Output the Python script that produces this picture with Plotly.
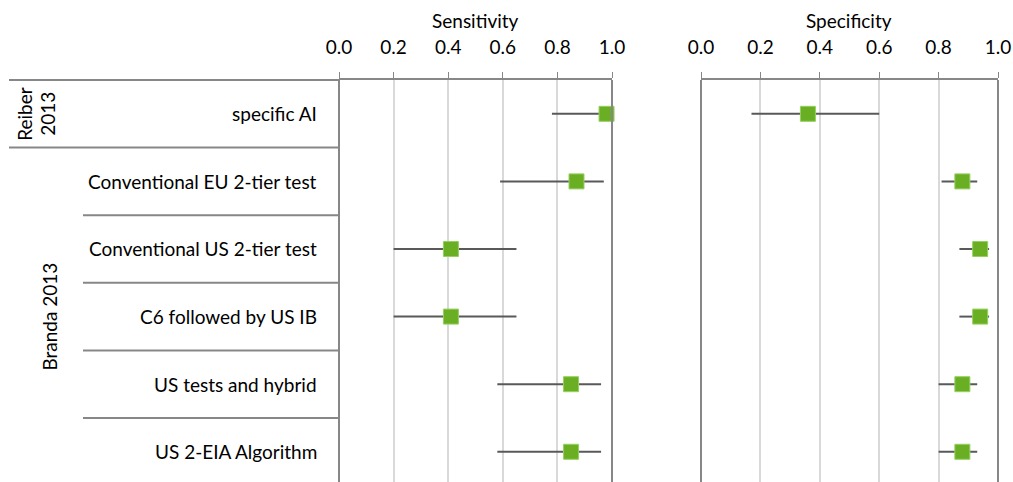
import plotly.graph_objects as go

# Diagnostic accuracy by test (point estimate with 95% CI)
tests = [
    "specific AI",
    "Conventional EU 2-tier test",
    "Conventional US 2-tier test",
    "C6 followed by US IB",
    "US tests and hybrid",
    "US 2-EIA Algorithm",
]
sens = [0.98, 0.87, 0.41, 0.41, 0.85, 0.85]
sens_lo = [0.78, 0.59, 0.20, 0.20, 0.58, 0.58]
sens_hi = [1.00, 0.97, 0.65, 0.65, 0.96, 0.96]
spec = [0.36, 0.88, 0.94, 0.94, 0.88, 0.88]
spec_lo = [0.17, 0.81, 0.87, 0.87, 0.80, 0.80]
spec_hi = [0.60, 0.93, 0.97, 0.97, 0.93, 0.93]
tick_vals = [0.0, 0.2, 0.4, 0.6, 0.8, 1.0]
tick_text = ["0.0", "0.2", "0.4", "0.6", "0.8", "1.0"]

W, H = 1013, 482
FONT = "Lato, 'Open Sans', sans-serif"
FS = 19
GREEN = "#6aaf23"
EDGE = "#94d05f"
BAR = "#595959"
FRAME = "#878787"

rows = list(range(len(tests)))

fig = go.Figure()


def add_panel(vals, lo, hi, xa):
    fig.add_trace(go.Scatter(
        x=vals, y=rows, xaxis=xa, yaxis="y", mode="markers",
        marker=dict(symbol="square", size=15, color=GREEN,
                    line=dict(color=EDGE, width=1)),
        error_x=dict(type="data", symmetric=False,
                     array=[h - v for h, v in zip(hi, vals)],
                     arrayminus=[v - l for v, l in zip(vals, lo)],
                     color=BAR, thickness=2, width=0),
        showlegend=False, hoverinfo="skip", cliponaxis=False,
    ))


add_panel(sens, sens_lo, sens_hi, "x")
add_panel(spec, spec_lo, spec_hi, "x2")

L0, L1 = 339 / W, 612 / W
R0, R1 = 701 / W, 998 / W

xcommon = dict(
    range=[0, 1], side="top", tickvals=tick_vals, ticktext=tick_text,
    ticks="outside", ticklen=6, tickcolor=FRAME, tickwidth=1,
    ticklabelstandoff=10,
    showline=True, linecolor=FRAME, linewidth=2,
    showgrid=True, gridcolor="#d9d9d9", gridwidth=2,
    zeroline=False, tickfont=dict(family=FONT, size=FS, color="#000"),
    automargin=False, fixedrange=True,
)
fig.update_layout(
    width=W, height=H,
    margin=dict(l=0, r=0, t=80, b=0, pad=0, autoexpand=False),
    paper_bgcolor="white", plot_bgcolor="white",
    xaxis=dict(domain=[L0, L1], anchor="y", **xcommon),
    xaxis2=dict(domain=[R0, R1], anchor="y", **xcommon),
    yaxis=dict(range=[5.447, -0.5], showticklabels=False, showgrid=False,
               zeroline=False, showline=False, ticks="", automargin=False,
               fixedrange=True),
    font=dict(family=FONT, size=FS, color="#000"),
)

# panel titles
for label, x0, x1 in [("Sensitivity", L0, L1), ("Specificity", R0, R1)]:
    fig.add_annotation(text=label, xref="paper", yref="paper",
                       x=(x0 + x1) / 2, y=1 + (80 - 20) / 402,
                       xanchor="center", yanchor="middle", showarrow=False,
                       font=dict(family=FONT, size=FS, color="#000"))

# vertical frame lines of both panels
for xp in [L0, L1, R0, R1]:
    fig.add_shape(type="line", xref="paper", yref="paper",
                  x0=xp, x1=xp, y0=0, y1=1,
                  line=dict(color=FRAME, width=2), layer="above")

# top rule across the label column
fig.add_shape(type="line", xref="paper", yref="paper",
              x0=9 / W, x1=L0, y0=1, y1=1, line=dict(color=FRAME, width=2))

# row separators; the study boundary spans the group column too
for i in range(len(tests) - 1):
    start = 9 / W if i == 0 else 83 / W
    fig.add_shape(type="line", xref="paper", yref="y",
                  x0=start, x1=L0, y0=i + 0.5, y1=i + 0.5,
                  line=dict(color=FRAME, width=2))

# test names
for i, name in enumerate(tests):
    fig.add_annotation(text=name, xref="paper", yref="y",
                       x=319 / W, y=i, xanchor="right", yanchor="middle",
                       showarrow=False,
                       font=dict(family=FONT, size=FS, color="#000"))

# study group labels (rotated)
for text, xpx, row in [("Reiber", 25, 0), ("2013", 48, 0),
                       ("Branda 2013", 50, 3)]:
    fig.add_annotation(text=text, xref="paper", yref="y",
                       x=xpx / W, y=row, textangle=-90, showarrow=False,
                       xanchor="center", yanchor="middle",
                       font=dict(family=FONT, size=FS, color="#000"))

fig.write_html("out.html")
